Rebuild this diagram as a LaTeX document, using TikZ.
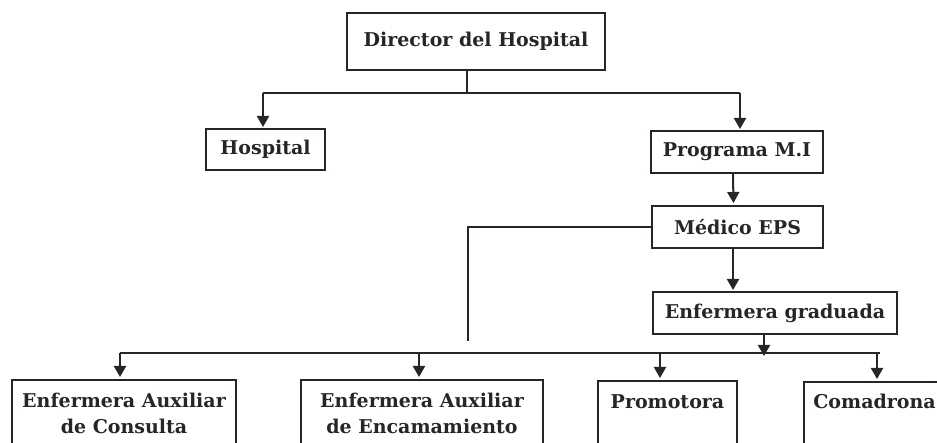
\documentclass[tikz,border=0pt]{standalone}
\usepackage{fontspec}
\setmainfont{DejaVu Serif}
\usetikzlibrary{arrows.meta}
\definecolor{ink}{RGB}{36,40,36}
\begin{document}
\begin{tikzpicture}[x=1pt,y=-1pt,
  box/.style={draw=ink, line width=2pt, inner sep=0pt, text=ink,
    font=\fontsize{19}{26}\selectfont\bfseries},
  low/.style={box, anchor=north, text height=27pt, text depth=60pt},
  link/.style={draw=ink, line width=2pt},
  arr/.style={link, -{Triangle[width=12pt,length=11pt]}, shorten >=2pt}]
\useasboundingbox[fill=white] (0,0) rectangle (937,443);
\clip (0,0) rectangle (937,443);
% boxes
\node[box, minimum width=258pt, minimum height=57pt] (dir) at (476,41.5) {Director del Hospital};
\node[box, minimum width=119pt, minimum height=41pt] (hosp) at (265.5,149.5) {Hospital};
\node[box, minimum width=172pt, minimum height=42pt] (prog) at (737,152) {Programa M.I};
\node[box, minimum width=171pt, minimum height=42pt] (med) at (737.5,227) {Médico EPS};
\node[box, minimum width=244pt, minimum height=42pt] (enfg) at (775,313) {Enfermera graduada};
\node[low, minimum width=224pt] (cons) at (124,379) {\begin{tabular}[t]{@{}c@{}}Enfermera Auxiliar\\de Consulta\end{tabular}};
\node[low, minimum width=242pt] (enc) at (422,379) {\begin{tabular}[t]{@{}c@{}}Enfermera Auxiliar\\de Encamamiento\end{tabular}};
\node[low, minimum width=139pt] (prom) at (667.5,380) {Promotora};
\node[low, minimum width=141pt] (coma) at (874.5,381) {Comadrona};
% coordinates
\coordinate (j1) at (467,93);
\coordinate (busL) at (120,353);
\coordinate (busR) at (880,353);
\coordinate (medL) at (468,227);
\coordinate (medEnd) at (468,341);
% top level
\draw[link] ([xshift=-9pt]dir.south) -- (j1);
\draw[link] (263,93) -- (740,93);
\draw[arr] (263,93) -- (263,129);
\draw[arr] (740,93) -- (740,131);
% chain
\draw[arr] ([xshift=-4pt]prog.south) -- ([xshift=-4pt]med.north);
\draw[arr] ([xshift=-4.5pt]med.south) -- (733,292);
\draw[link] (med.west) -- (medL) -- (medEnd);
% bus
\draw[arr, shorten >=0pt] (764,334) -- (764,356);
\draw[link] (busL) -- (busR);
\draw[arr] (busL) -- (120,379);
\draw[arr] (419,353) -- (419,379);
\draw[arr] (660,353) -- (660,380);
\draw[arr] (877,353) -- (877,381);
\end{tikzpicture}
\end{document}
